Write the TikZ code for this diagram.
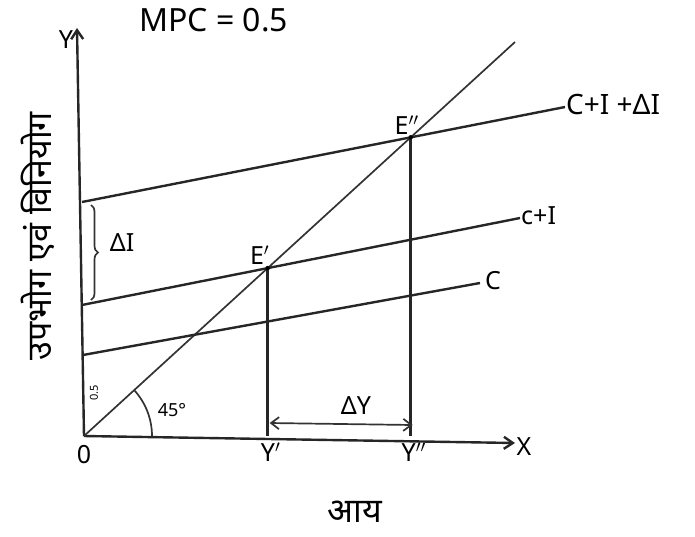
\documentclass[tikz,border=0pt]{standalone}
\usepackage{fontspec}
\setmainfont{Noto Sans}
\newfontfamily\deva[Script=Devanagari]{Noto Sans}
\usetikzlibrary{arrows.meta,intersections,decorations.pathreplacing}
\begin{document}
\begin{tikzpicture}[x=1pt,y=-1pt,
  ln/.style={line width=2.4pt,black!85},
  thin/.style={line width=1.7pt,black!80},
  lbl/.style={font=\fontsize{25}{28}\selectfont,inner sep=1pt},
  big/.style={font=\fontsize{32}{36}\selectfont,inner sep=1pt},
  dotp/.style={circle,fill=black,inner sep=1.6pt}]
\useasboundingbox (0,0) rectangle (695,536);
% axes
\coordinate (O) at (84,436);
\coordinate (Ytop) at (77,28);
\coordinate (Xend) at (515,443);
\draw[ln,-{Straight Barb[length=9pt,width=12pt]}] (O) -- (Ytop);
\draw[ln,-{Straight Barb[length=9pt,width=12pt]}] (O) -- (Xend);
\node[lbl] (ylab) at (66,40) {Y};
\node[lbl] (xlab) at (524,447) {X};
\node[lbl] (olab) at (84,455) {0};
% lines
\coordinate (D1) at (515,42);
\coordinate (C0) at (83,355);
\coordinate (C1) at (480,283);
\coordinate (CI0) at (82,305);
\coordinate (CI1) at (520,218);
\coordinate (CD0) at (82,202);
\coordinate (CD1) at (565,107);
\draw[thin,name path=diag] (O) -- (D1);
\draw[ln,name path=cl] (C0) -- (C1);
\draw[ln,name path=cil] (CI0) -- (CI1);
\draw[ln,name path=cdl] (CD0) -- (CD1);
\path[name intersections={of=diag and cil,by=E1}];
\path[name intersections={of=diag and cdl,by=E2}];
\path[name intersections={of=diag and cl,by=P1}];
\node[lbl,anchor=west] (clab) at (484,281) {C};
\node[lbl,anchor=west] (cilab) at (520,216) {c+I};
\node[lbl,anchor=west,font=\fontsize{28}{30}\selectfont] (cdlab) at (565,104) {C+I +ΔI};
% verticals
\coordinate (Y1) at (E1 |- O);
\coordinate (Y2) at (E2 |- O);
\draw[ln] (E1) -- (Y1);
\draw[ln] (E2) -- (Y2);
\node[dotp] at (E1) {};
\node[dotp] at (E2) {};
\node[lbl,anchor=south] (e1lab) at ([xshift=-8pt,yshift=2pt]E1) {E$'$};
\node[lbl,anchor=south] (e2lab) at ([xshift=-4pt,yshift=2pt]E2) {E$''$};
\node[lbl,anchor=north] (y1lab) at ([xshift=3pt,yshift=-6pt]Y1) {Y$'$};
\node[lbl,anchor=north] (y2lab) at ([xshift=3pt,yshift=-6pt]Y2) {Y$''$};
% Delta Y
\coordinate (dy1) at ([xshift=2pt,yshift=13pt]Y1);
\coordinate (dy2) at ([xshift=2pt,yshift=11pt]Y2);
\draw[thin,{Straight Barb[length=8pt,width=12pt]}-{Straight Barb[length=8pt,width=12pt]}] (dy1) -- (dy2);
\node[lbl] (dylab) at (356,406) {ΔY};
% brace
\coordinate (b1) at (91,205);
\coordinate (b2) at (91,300);
\draw[thin,decorate,decoration={brace,amplitude=7pt}] (b1) -- (b2);
\node[lbl] (dilab) at (122,243) {ΔI};
% 45 degree arc
\draw[thin] (152,436) arc[start angle=0,end angle=-42.4,radius=68];
\node[font=\fontsize{18}{20}\selectfont] (ang) at (172,410) {45°};
\node[font=\fontsize{11}{12}\selectfont,rotate=90,inner sep=0pt] (mpc5) at (94,393) {0.5};
% titles
\node[big,anchor=west] (mpc) at (138,20) {MPC = 0.5};
\node[font=\deva\fontsize{34}{38}\selectfont,rotate=90] (yax) at (38,236) {उपभोग एवं विनियोग};
\node[font=\deva\fontsize{34}{38}\selectfont] (xax) at (355,512) {आय};
\end{tikzpicture}
\end{document}
